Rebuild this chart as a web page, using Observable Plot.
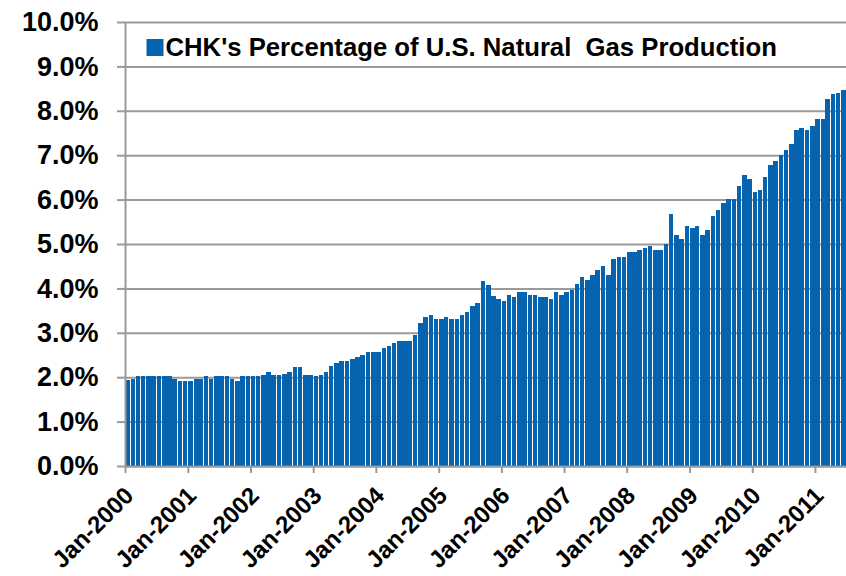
<!DOCTYPE html>
<html>
<head>
<meta charset="utf-8">
<script src="https://cdn.jsdelivr.net/npm/d3@7"></script>
<script src="https://cdn.jsdelivr.net/npm/@observablehq/plot@0.6"></script>
<style>
  html, body { margin: 0; padding: 0; background: #fff; }
  #chart svg text { white-space: pre; }
</style>
</head>
<body>
<div id="chart"></div>
<script>
// CHK's share of U.S. natural gas production, monthly, Jan-2000 .. Jun-2011 (percent)
const v2000 = [1.93, 1.96, 2.02, 2.02, 2.02, 2.02, 2.02, 2.02, 2.02, 1.96, 1.91, 1.91];
const v2001 = [1.91, 1.96, 1.96, 2.02, 1.96, 2.02, 2.02, 2.02, 1.96, 1.91, 2.02, 2.02];
const v2002 = [2.02, 2.02, 2.06, 2.11, 2.06, 2.06, 2.08, 2.11, 2.22, 2.22, 2.06, 2.06];
const v2003 = [2.02, 2.06, 2.11, 2.25, 2.31, 2.36, 2.36, 2.40, 2.45, 2.51, 2.56, 2.56];
const v2004 = [2.56, 2.65, 2.70, 2.77, 2.81, 2.81, 2.81, 2.95, 3.21, 3.35, 3.41, 3.31];
const v2005 = [3.31, 3.36, 3.31, 3.31, 3.41, 3.46, 3.61, 3.67, 4.17, 4.07, 3.82, 3.77];
const v2006 = [3.71, 3.86, 3.81, 3.91, 3.91, 3.86, 3.86, 3.81, 3.81, 3.76, 3.91, 3.86];
const v2007 = [3.91, 3.97, 4.11, 4.26, 4.20, 4.31, 4.41, 4.51, 4.31, 4.66, 4.71, 4.71];
const v2008 = [4.82, 4.82, 4.86, 4.92, 4.96, 4.86, 4.86, 5.01, 5.67, 5.21, 5.11, 5.41];
const v2009 = [5.37, 5.41, 5.21, 5.31, 5.62, 5.77, 5.92, 6.02, 6.02, 6.31, 6.56, 6.47];
const v2010 = [6.16, 6.22, 6.51, 6.77, 6.87, 7.01, 7.12, 7.26, 7.57, 7.61, 7.57, 7.66];
const v2011 = [7.82, 7.82, 8.27, 8.37, 8.41, 8.46];

const seriesName = "CHK's Percentage of U.S. Natural  Gas Production";
const yTicks = [0, 1, 2, 3, 4, 5, 6, 7, 8, 9, 10];
const tickYears = [2000, 2001, 2002, 2003, 2004, 2005, 2006, 2007, 2008, 2009, 2010, 2011];

const values = [...v2000, ...v2001, ...v2002, ...v2003, ...v2004, ...v2005,
                ...v2006, ...v2007, ...v2008, ...v2009, ...v2010, ...v2011];
const data = values.map((v, i) => ({
  start: new Date(Date.UTC(2000, i, 1)),
  end: new Date(Date.UTC(2000, i + 1, 1)),
  value: v
}));
const xTicks = tickYears.map(y => new Date(Date.UTC(y, 0, 1)));
const xStart = new Date(Date.UTC(2000, 0, 1));
const xEnd = new Date(Date.UTC(2011, 6, 1));

const blue = "#0563b0";
const grey = "#9a9a9a";
const font = "'Liberation Sans', Arial, sans-serif";

const chart = Plot.plot({
  width: 846,
  height: 576,
  marginLeft: 125,
  marginRight: 0,
  marginTop: 22,
  marginBottom: 110,
  style: { fontFamily: font, background: "#fff", color: "#000" },
  x: { type: "utc", domain: [xStart, xEnd] },
  y: { domain: [0, 10] },
  marks: [
    Plot.gridY(yTicks, { stroke: grey, strokeOpacity: 1, strokeWidth: 2 }),
    Plot.rectY(data, { x1: "start", x2: "end", y: "value", fill: blue, insetLeft: 0.35, insetRight: 0.35, shapeRendering: "crispEdges" }),
    Plot.ruleX([xStart], { stroke: grey, strokeWidth: 2 }),
    Plot.ruleY([0], { stroke: grey, strokeWidth: 2 }),
    Plot.axisY(yTicks, {
      tickFormat: d => d.toFixed(1) + "%",
      tickSize: 8, tickPadding: 19,
      fontSize: 27, fontWeight: "bold",
      stroke: grey, strokeWidth: 2, fill: "#000",
      label: null
    }),
    Plot.axisX(xTicks, {
      tickFormat: () => "",
      tickSize: 7,
      stroke: grey, strokeWidth: 2,
      label: null
    }),
    Plot.text(xTicks, {
      x: d => d, frameAnchor: "bottom",
      text: d3.utcFormat("Jan-%Y"),
      rotate: -45, textAnchor: "end", lineAnchor: "middle",
      dx: 4, dy: 25,
      fontSize: 24, fontWeight: "bold", fill: "#000"
    }),
    Plot.dot([0], { frameAnchor: "top-left", dx: 29.5, dy: 25, symbol: "square", r: 9.6, fill: blue, stroke: null }),
    Plot.text([seriesName], {
      frameAnchor: "top-left", dx: 40, dy: 25,
      textAnchor: "start", lineAnchor: "middle",
      fontSize: 25.7, fontWeight: "bold", fill: "#000"
    })
  ]
});
document.getElementById("chart").appendChild(chart);
</script>
</body>
</html>
